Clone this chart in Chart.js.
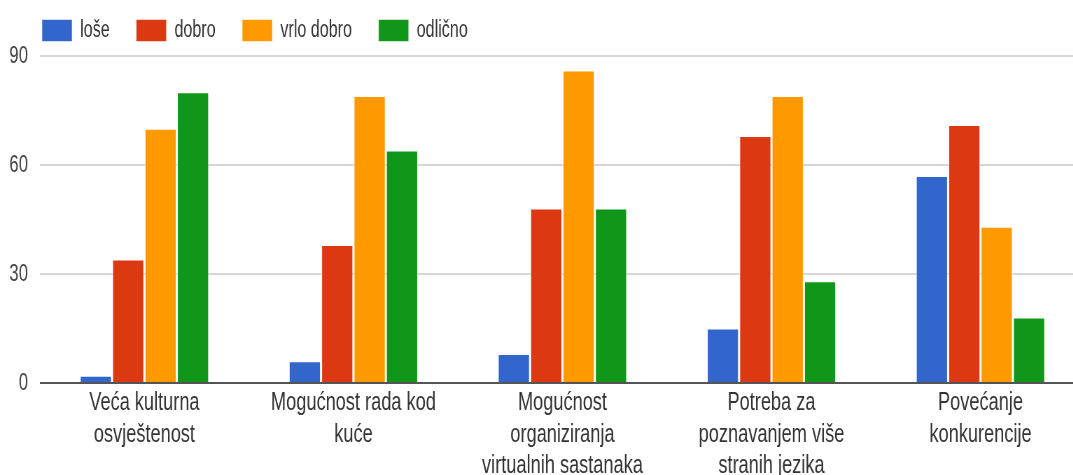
<!DOCTYPE html>
<html>
<head>
<meta charset="utf-8">
<script src="https://cdn.jsdelivr.net/npm/chart.js@4/dist/chart.umd.min.js"></script>
<style>
  html, body { margin: 0; padding: 0; background: #fff; overflow: hidden; width: 1073px; height: 475px; }
  #wrap { position: absolute; left: 0; top: 0; width: 1073px; height: 475px; overflow: hidden; }
  #c { position: absolute; left: 0; top: 0; transform: scaleX(0.7); transform-origin: 0 0; }
</style>
</head>
<body>
<div id="wrap"><canvas id="c" width="1560" height="475"></canvas></div>
<script>
const categories = [
  ["Veća kulturna", "osvještenost"],
  ["Mogućnost rada kod", "kuće"],
  ["Mogućnost", "organiziranja", "virtualnih sastanaka"],
  ["Potreba za", "poznavanjem više", "stranih jezika"],
  ["Povećanje", "konkurencije"]
];
const seriesNames = ["loše", "dobro", "vrlo dobro", "odlično"];
const lose = [2, 6, 8, 15, 57];
const dobro = [34, 38, 48, 68, 71];
const vrloDobro = [70, 79, 86, 79, 43];
const odlicno = [80, 64, 48, 28, 18];
const yTicks = [0, 30, 60, 90];

const colors = ["#3366CC", "#DC3912", "#FF9900", "#109618"];
const values = [lose, dobro, vrloDobro, odlicno];

const FONT = "'Liberation Sans', Arial, sans-serif";

const legendShift = {
  id: 'legendShift',
  afterLayout(chart) {
    const l = chart.legend;
    if (!l) return;
    l.left += 22; l.right += 22;
    l.top -= 4; l.bottom -= 4;
  }
};

new Chart(document.getElementById('c'), {
  type: 'bar',
  data: {
    labels: categories,
    datasets: values.map((v, i) => ({
      label: seriesNames[i],
      data: v,
      backgroundColor: colors[i],
      borderColor: 'rgba(255,255,255,0.55)',
      borderWidth: { left: 1.5, right: 1.5, top: 1, bottom: 0 },
      categoryPercentage: 0.62,
      barPercentage: 1.0
    }))
  },
  plugins: [legendShift],
  options: {
    responsive: false,
    animation: false,
    layout: { padding: { left: 0, right: 10, top: -15, bottom: 0 } },
    plugins: {
      tooltip: { enabled: false },
      legend: {
        position: 'top',
        align: 'start',
        labels: {
          boxWidth: 43,
          boxHeight: 22,
          padding: 38,
          color: '#333',
          font: { family: FONT, size: 23, lineHeight: 1.125 }
        }
      }
    },
    scales: {
      x: {
        grid: { display: false, drawTicks: false, tickLength: 0 },
        border: { display: false },
        ticks: {
          autoSkip: false,
          maxRotation: 0,
          minRotation: 0,
          padding: 4,
          color: '#333',
          font: { family: FONT, size: 26, lineHeight: 1.215 }
        },
        afterFit: (s) => { s.height = 92; }
      },
      y: {
        min: 0,
        max: 90,
        afterBuildTicks: (s) => { s.ticks = yTicks.map(v => ({ value: v })); },
        grid: {
          drawTicks: false,
          tickLength: 0,
          color: (ctx) => ctx.tick && ctx.tick.value === 0 ? '#555' : '#d6d6d6',
          lineWidth: 2
        },
        border: { display: false },
        ticks: {
          padding: 17,
          color: '#444',
          font: { family: FONT, size: 24 }
        },
        afterFit: (s) => { s.width = 57; }
      }
    }
  }
});
</script>
</body>
</html>
